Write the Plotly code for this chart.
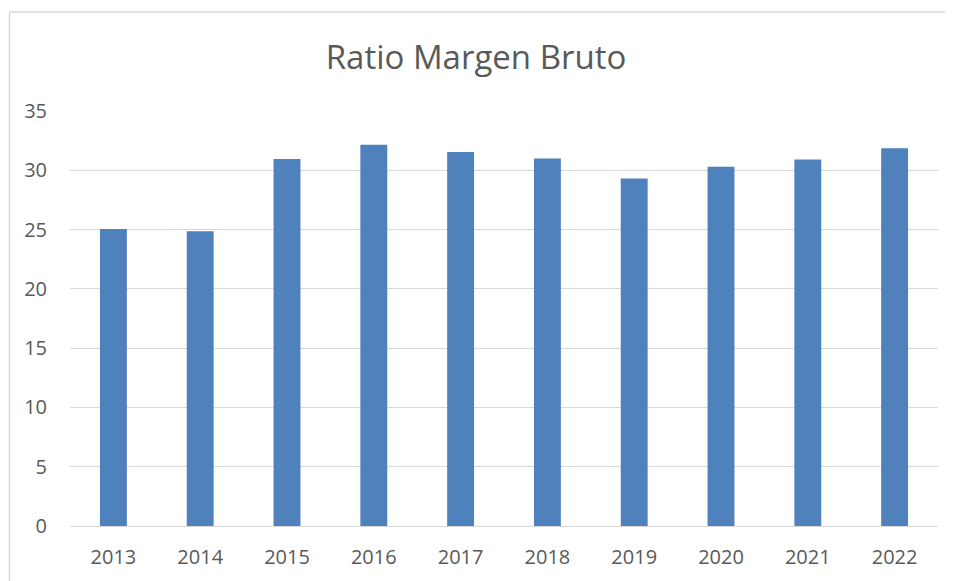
import plotly.graph_objects as go

years = ["2013", "2014", "2015", "2016", "2017", "2018", "2019", "2020", "2021", "2022"]
ratio = [25.05, 24.85, 30.95, 32.15, 31.55, 31.0, 29.3, 30.3, 30.9, 31.85]
y_ticks = [0, 5, 10, 15, 20, 25, 30, 35]

fig = go.Figure(go.Bar(x=years, y=ratio, marker=dict(color="#4F81BD", line=dict(width=0))))

OFF = 8  # page body margin
W, H = 953 - OFF, 581 - OFF
# target positions in window pixels
PL, PR, PT, PB = 70, 938, 111, 526
L, T = PL - OFF, PT - OFF
R = W - (PR - OFF)
B = H - (PB - OFF)
pw, ph = PR - PL, PB - PT

def px_x(x):
    return (x - PL) / pw

def px_y(y):
    return (PB - y) / ph

fig.update_layout(
    width=W, height=H,
    margin=dict(l=L, r=R, t=T, b=B),
    paper_bgcolor="white", plot_bgcolor="white",
    bargap=0.69,
    font=dict(family="Open Sans", color="#595959", size=20),
    title=dict(text="Ratio Margen Bruto", x=(476 - OFF) / W, xanchor="center",
               y=1 - (57 - OFF) / H, yanchor="middle",
               font=dict(size=33, color="#595959", family="Open Sans")),
    xaxis=dict(showgrid=False, showline=False, ticks="", tickfont=dict(size=20),
               ticklabelstandoff=17),
    yaxis=dict(range=[0, 35], tickvals=y_ticks, showgrid=True, gridcolor="#D9D9D9",
               gridwidth=1.3, zeroline=True, zerolinecolor="#D9D9D9", zerolinewidth=1.3,
               showline=False, ticks="", tickfont=dict(size=20), ticklabelstandoff=22),
    shapes=[
        dict(type="line", xref="paper", yref="paper", x0=px_x(9.5), x1=px_x(960),
             y0=px_y(12), y1=px_y(12), line=dict(color="#D9D9D9", width=1.5)),
        dict(type="line", xref="paper", yref="paper", x0=px_x(9.5), x1=px_x(9.5),
             y0=px_y(12), y1=px_y(590), line=dict(color="#D9D9D9", width=1.5)),
    ],
    showlegend=False,
)

fig.write_html("out.html")
